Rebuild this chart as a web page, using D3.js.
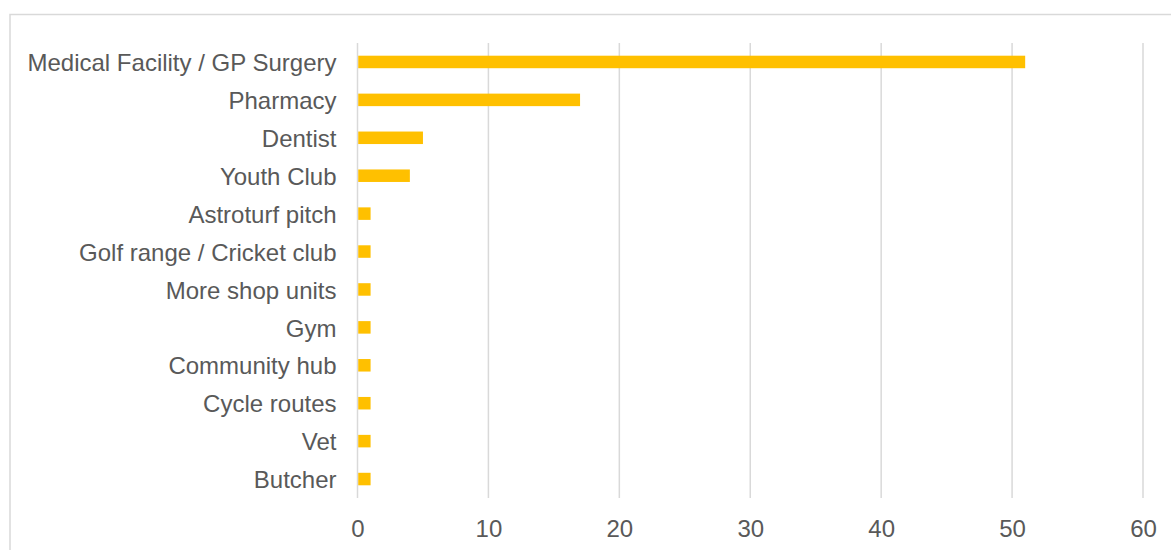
<!DOCTYPE html>
<html>
<head>
<meta charset="utf-8">
<script src="https://cdn.jsdelivr.net/npm/d3@7/dist/d3.min.js"></script>
<style>
  html, body { margin: 0; padding: 0; background: #fff; }
  svg { display: block; }
</style>
</head>
<body>
<svg id="chart" width="1171" height="550"></svg>
<script>
// Facilities requested, with number of mentions
const categories = [
  "Medical Facility / GP Surgery",
  "Pharmacy",
  "Dentist",
  "Youth Club",
  "Astroturf pitch",
  "Golf range / Cricket club",
  "More shop units",
  "Gym",
  "Community hub",
  "Cycle routes",
  "Vet",
  "Butcher"
];
const counts = [51, 17, 5, 4, 1, 1, 1, 1, 1, 1, 1, 1];
const tickValues = [0, 10, 20, 30, 40, 50, 60];

const svg = d3.select("#chart");
const font = "'Liberation Sans', Arial, sans-serif";
const textColor = "#595959";
const gridColor = "#d9d9d9";

// Outer chart frame (continues past the right and bottom edges)
svg.append("rect")
  .attr("x", 10).attr("y", 14.5)
  .attr("width", 1300).attr("height", 700)
  .attr("fill", "none")
  .attr("stroke", gridColor)
  .attr("stroke-width", 1.5);

const plot = { left: 357.5, right: 1143, top: 43, bottom: 498 };

const x = d3.scaleLinear().domain([0, 60]).range([plot.left, plot.right]);
const y = d3.scaleBand().domain(categories).range([plot.top, plot.bottom]).paddingInner(0.67).paddingOuter(0.335);

// Vertical gridlines
svg.append("g")
  .selectAll("line")
  .data(tickValues)
  .join("line")
  .attr("x1", d => x(d)).attr("x2", d => x(d))
  .attr("y1", plot.top).attr("y2", plot.bottom)
  .attr("stroke", gridColor)
  .attr("stroke-width", 1.5);

// Bars
svg.append("g")
  .selectAll("rect")
  .data(categories)
  .join("rect")
  .attr("x", x(0) + 0.75)
  .attr("y", d => y(d))
  .attr("width", (d, i) => x(counts[i]) - x(0) - 0.75)
  .attr("height", y.bandwidth())
  .attr("fill", "#FFC000");

// Category axis
const yAxis = svg.append("g")
  .attr("transform", `translate(${plot.left - 21},0)`)
  .call(d3.axisLeft(y).tickSize(0).tickPadding(0));
yAxis.select(".domain").remove();
yAxis.selectAll("text")
  .attr("font-family", font)
  .attr("font-size", "24px")
  .attr("fill", textColor)
  .attr("dy", "0.38em");

// Value axis
const xAxis = svg.append("g")
  .attr("transform", `translate(0,${plot.bottom})`)
  .call(d3.axisBottom(x).tickValues(tickValues).tickSize(0).tickPadding(22));
xAxis.select(".domain").remove();
xAxis.selectAll("text")
  .attr("font-family", font)
  .attr("font-size", "24px")
  .attr("fill", textColor);
</script>
</body>
</html>
